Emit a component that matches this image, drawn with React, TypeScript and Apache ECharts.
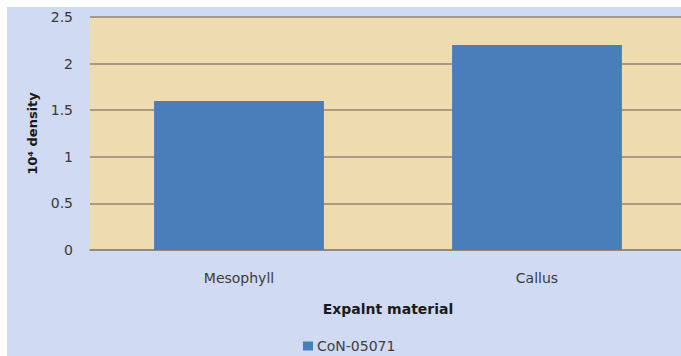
import React, { useEffect, useRef } from "react";
import * as echarts from "echarts";

// Explant categories and the measured density (×10⁴) for the CoN-05071 line
const categories = ["Mesophyll", "Callus"];
const densityValues = [1.6, 2.2];
const seriesName = "CoN-05071";
const yTicks = { min: 0, max: 2.5, interval: 0.5 };

const FONT = "DejaVu Sans";

export default function App() {
  const ref = useRef<HTMLDivElement>(null);

  useEffect(() => {
    if (!ref.current) return;
    const chart = echarts.init(ref.current, undefined, { renderer: "svg" });
    chart.setOption({
      animation: false,
      backgroundColor: "#d1daf3",
      textStyle: { fontFamily: FONT },
      grid: {
        left: 83,
        right: 0,
        top: 10,
        bottom: 106,
        show: true,
        backgroundColor: "#efdbb0",
        borderWidth: 0,
      },
      legend: {
        left: 291,
        top: 327,
        itemWidth: 10,
        itemHeight: 9,
        icon: "rect",
        itemGap: 6,
        textStyle: { fontFamily: FONT, fontSize: 14, color: "#404040", padding: [0, 0, 0, -1] },
        data: [seriesName],
      },
      xAxis: {
        type: "category",
        data: categories,
        name: "Expalnt material",
        nameLocation: "middle",
        nameGap: 52,
        nameTextStyle: { fontFamily: FONT, fontSize: 14, fontWeight: "bold", color: "#1a1a1a" },
        axisLine: { show: true, lineStyle: { color: "#938470", width: 1.5 } },
        axisTick: { show: false },
        axisLabel: { margin: 21, fontFamily: FONT, fontSize: 14, color: "#3c3c3c" },
      },
      yAxis: {
        type: "value",
        min: yTicks.min,
        max: yTicks.max,
        interval: yTicks.interval,
        name: "10⁴ density",
        nameLocation: "middle",
        nameGap: 51,
        nameTextStyle: { fontFamily: FONT, fontSize: 13, fontWeight: "bold", color: "#1a1a1a" },
        axisLine: { show: false },
        axisTick: { show: false },
        axisLabel: { margin: 17, fontFamily: FONT, fontSize: 14, color: "#383838" },
        splitLine: { show: true, lineStyle: { color: "#938470", width: 1.5 } },
      },
      series: [
        {
          name: seriesName,
          type: "bar",
          data: densityValues,
          barWidth: "57%",
          itemStyle: { color: "#4a7ebb" },
        },
      ],
    });
    return () => chart.dispose();
  }, []);

  // The plot area runs a few pixels past the right edge of the frame
  return (
    <div
      style={{
        position: "absolute",
        left: 7,
        top: 7,
        width: 674,
        height: 349,
        overflow: "hidden",
      }}
    >
      <div ref={ref} style={{ width: 679, height: 349 }} />
    </div>
  );
}
